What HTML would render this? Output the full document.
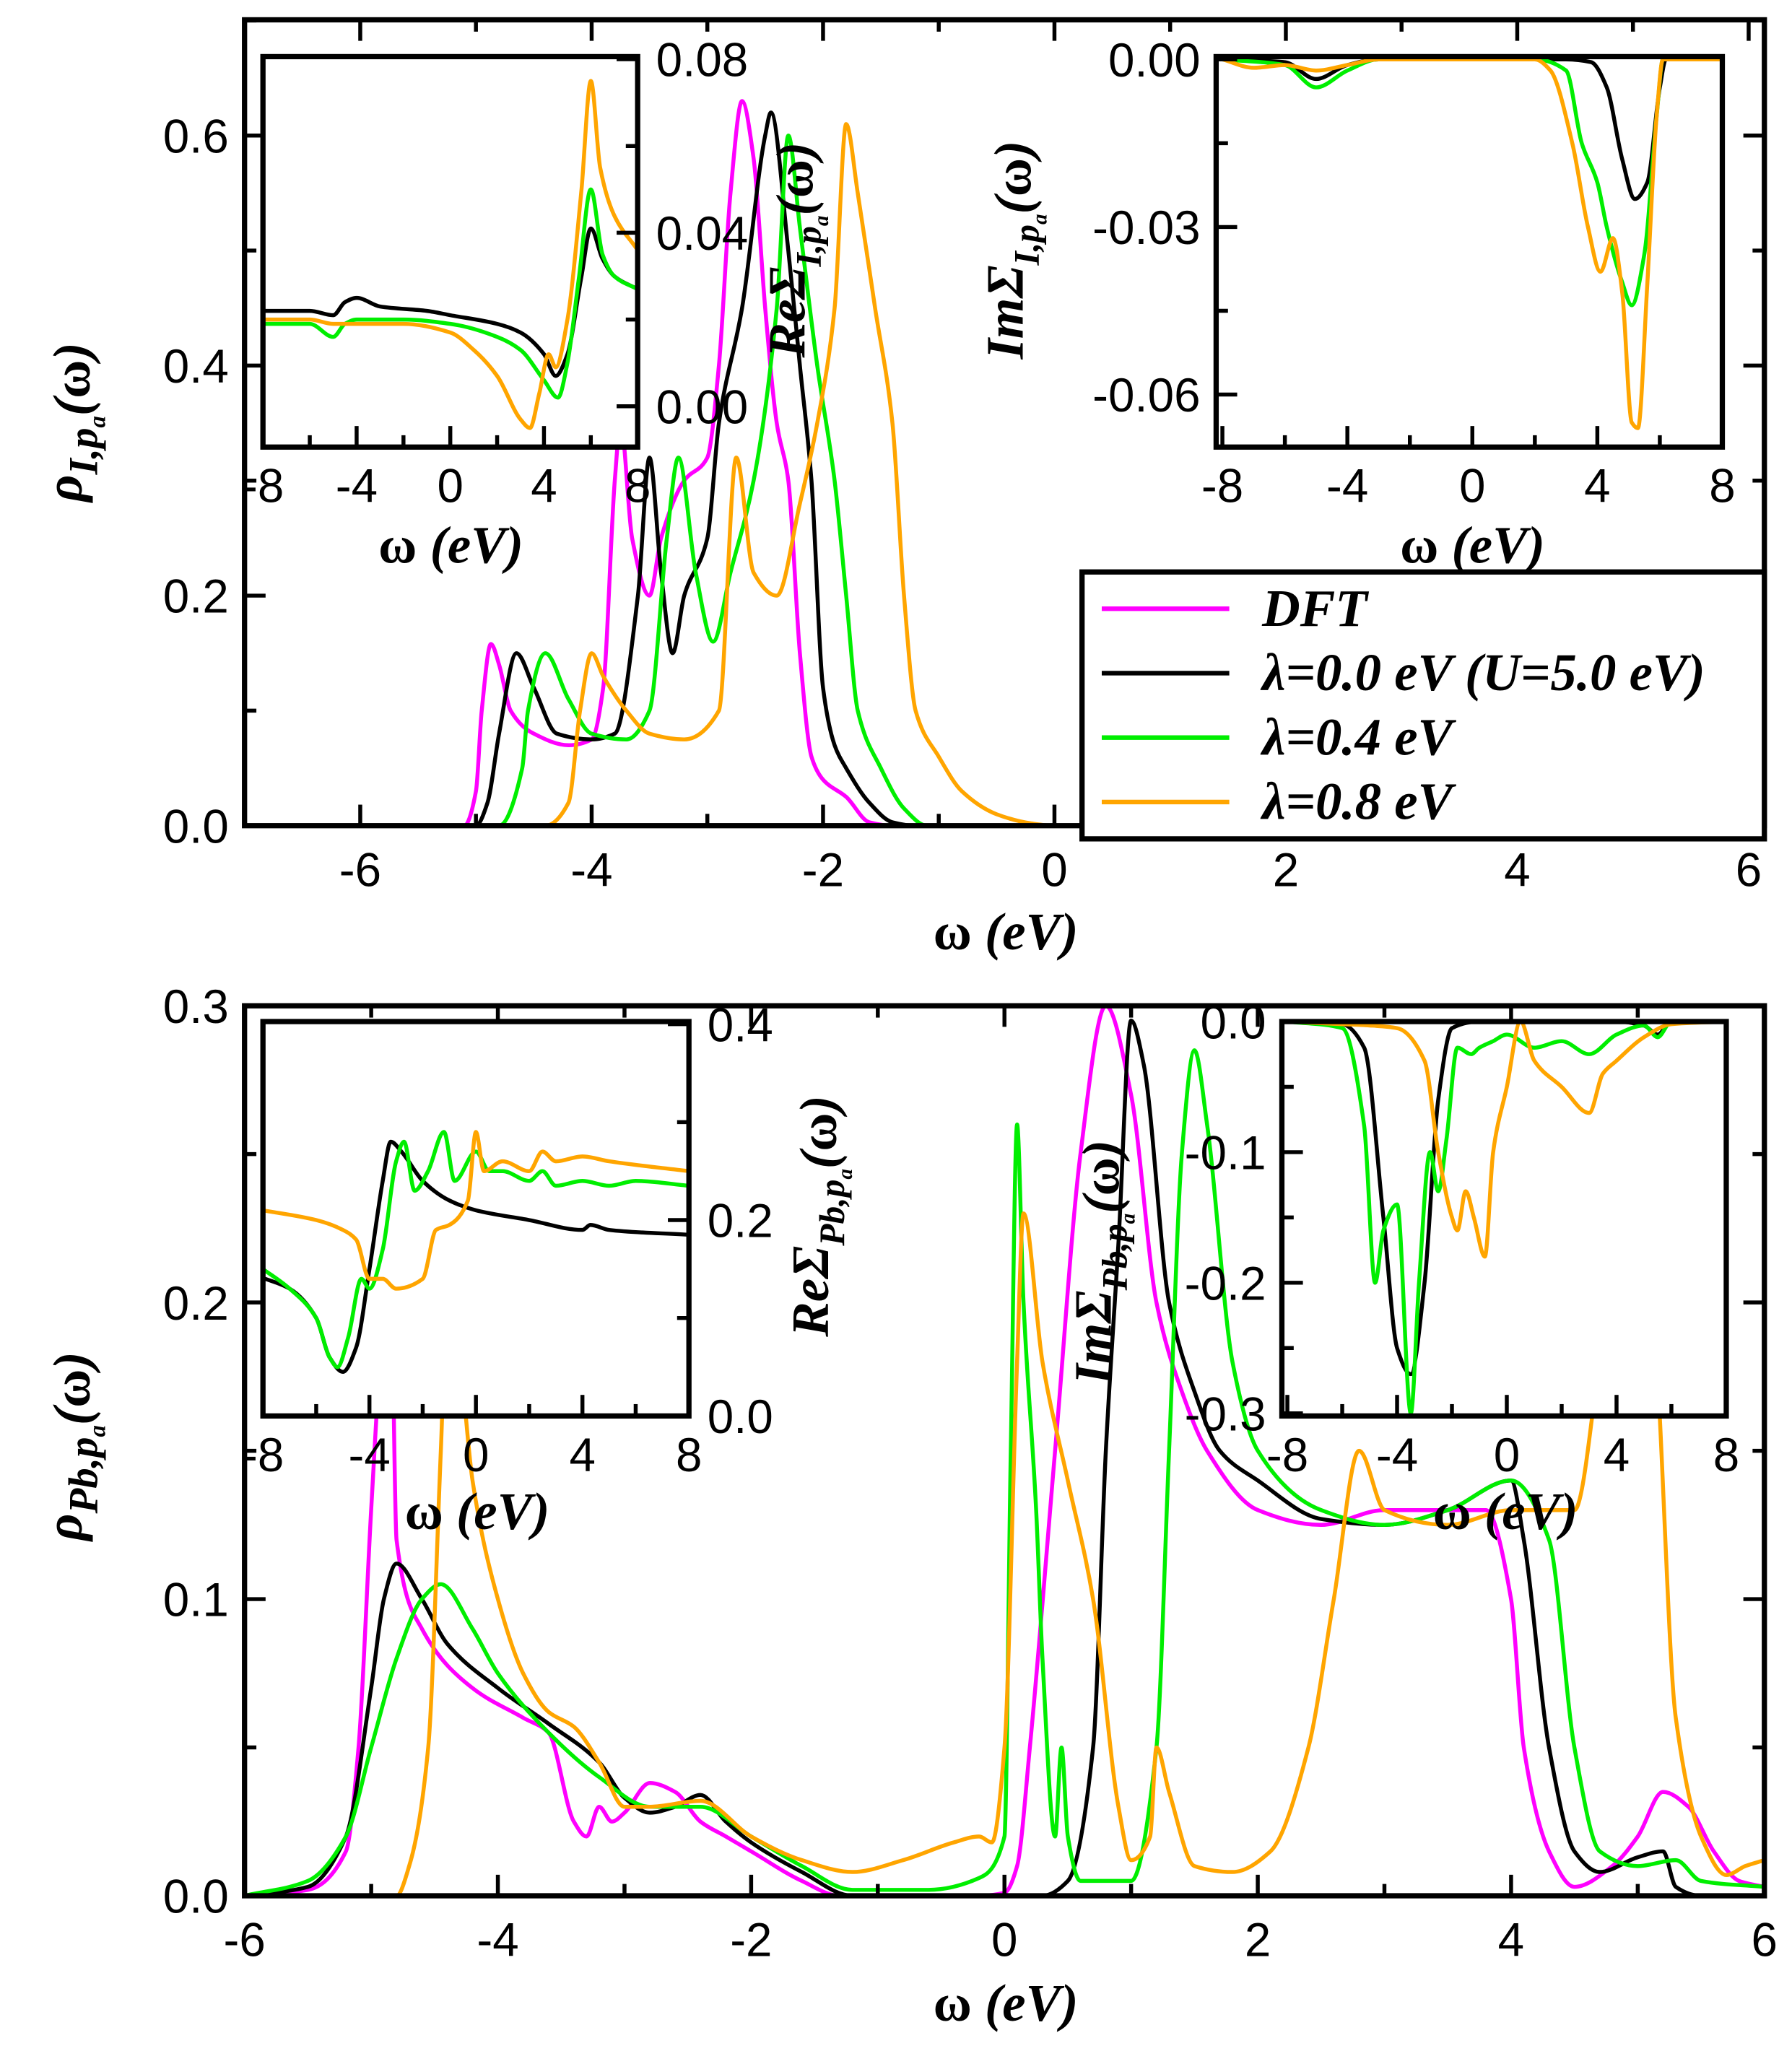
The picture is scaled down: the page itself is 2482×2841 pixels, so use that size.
<!DOCTYPE html>
<html><head><meta charset="utf-8"><style>
html,body{margin:0;padding:0;background:#fff;}
svg{display:block;}
text{font-family:"Liberation Sans",sans-serif;fill:#000;}
.t{font-size:36px;}
.ti{font-family:"Liberation Serif",serif;font-weight:bold;font-style:italic;font-size:40px;}
</style></head><body>
<svg id="chart" width="2482" height="2841" viewBox="0 0 1363 1560" xmlns="http://www.w3.org/2000/svg"></svg>
<script>
// ---------- data (omega eV, value) ----------
const topDFT=[[-7,0],[-5.1,0],[-5.0,0.03],[-4.95,0.1],[-4.87,0.158],[-4.8,0.14],[-4.7,0.1],[-4.5,0.08],[-4.2,0.07],[-4.0,0.075],[-3.9,0.12],[-3.8,0.3],[-3.75,0.35],[-3.65,0.25],[-3.5,0.2],[-3.4,0.25],[-3.2,0.3],[-3.0,0.32],[-2.9,0.4],[-2.8,0.55],[-2.7,0.63],[-2.6,0.58],[-2.5,0.45],[-2.4,0.35],[-2.3,0.3],[-2.2,0.15],[-2.1,0.06],[-2.0,0.04],[-1.8,0.025],[-1.6,0.003],[-1.4,0],[6,0]];
const topL00=[[-7,0],[-5.0,0],[-4.9,0.02],[-4.8,0.08],[-4.65,0.15],[-4.5,0.12],[-4.3,0.08],[-4.0,0.075],[-3.8,0.08],[-3.6,0.2],[-3.5,0.32],[-3.4,0.22],[-3.3,0.15],[-3.2,0.2],[-3.0,0.25],[-2.9,0.35],[-2.7,0.45],[-2.5,0.6],[-2.45,0.62],[-2.3,0.5],[-2.2,0.4],[-2.1,0.3],[-2.0,0.12],[-1.9,0.07],[-1.8,0.05],[-1.6,0.02],[-1.4,0.003],[-1.2,0],[6,0]];
const topL04=[[-7,0],[-4.8,0],[-4.6,0.05],[-4.55,0.1],[-4.4,0.15],[-4.2,0.11],[-4.0,0.08],[-3.7,0.075],[-3.5,0.1],[-3.35,0.25],[-3.25,0.32],[-3.1,0.22],[-2.95,0.16],[-2.8,0.22],[-2.6,0.3],[-2.4,0.45],[-2.3,0.6],[-2.2,0.52],[-2.05,0.4],[-1.9,0.3],[-1.8,0.2],[-1.7,0.1],[-1.5,0.05],[-1.3,0.015],[-1.1,0],[6,0]];
const topL08=[[-7,0],[-4.4,0],[-4.2,0.02],[-4.1,0.1],[-4.0,0.15],[-3.9,0.13],[-3.7,0.1],[-3.5,0.08],[-3.2,0.075],[-2.9,0.1],[-2.75,0.32],[-2.6,0.22],[-2.4,0.2],[-2.2,0.28],[-2.05,0.35],[-1.9,0.45],[-1.8,0.61],[-1.7,0.55],[-1.55,0.45],[-1.4,0.35],[-1.3,0.2],[-1.2,0.1],[-1.0,0.06],[-0.8,0.03],[-0.5,0.01],[-0.2,0.002],[0,0],[6,0]];
const reI00=[[-8,0.022],[-6,0.022],[-5,0.021],[-4.5,0.024],[-4,0.025],[-3,0.023],[-1,0.022],[0,0.021],[2,0.019],[3,0.017],[4,0.012],[4.5,0.007],[5,0.012],[5.6,0.03],[6,0.041],[6.5,0.034],[7,0.03],[8,0.027]];
const reI04=[[-8,0.019],[-6,0.019],[-5,0.016],[-4.5,0.019],[-4,0.02],[-2,0.02],[0,0.019],[2,0.016],[3,0.013],[4,0.006],[4.6,0.002],[5,0.01],[5.5,0.03],[6,0.05],[6.5,0.035],[7,0.03],[8,0.027]];
const reI08=[[-8,0.02],[-6,0.02],[-5,0.019],[-4,0.019],[-2,0.019],[0,0.017],[1,0.013],[2,0.007],[3,-0.003],[3.4,-0.005],[3.8,0.003],[4.2,0.012],[4.5,0.009],[5,0.02],[5.6,0.05],[6,0.075],[6.4,0.055],[7,0.044],[8,0.036]];
const imI00=[[-8,0],[-6,-0.0005],[-5,-0.0035],[-4,-0.001],[-3,0],[3,0],[3.8,-0.0005],[4.3,-0.005],[4.8,-0.018],[5.2,-0.025],[5.6,-0.022],[6,-0.005],[6.2,0],[8,0]];
const imI04=[[-8,0],[-6,-0.001],[-5,-0.005],[-4,-0.002],[-3,0],[2,0],[3,-0.002],[3.5,-0.015],[4,-0.022],[4.3,-0.03],[4.8,-0.04],[5.1,-0.044],[5.5,-0.035],[5.9,-0.01],[6.1,0],[8,0]];
const imI08=[[-8,0],[-7,-0.0015],[-6,-0.001],[-5,-0.002],[-4,-0.001],[-3,0],[2,0],[2.5,-0.002],[3.2,-0.015],[3.7,-0.03],[4.1,-0.038],[4.5,-0.032],[4.8,-0.042],[5.1,-0.065],[5.3,-0.066],[5.6,-0.04],[5.9,-0.01],[6.1,0],[8,0]];
const botDFT=[[-6,0],[-5.5,0.002],[-5.2,0.015],[-5.1,0.05],[-5.0,0.13],[-4.9,0.2],[-4.85,0.22],[-4.8,0.12],[-4.6,0.09],[-4.2,0.07],[-3.8,0.06],[-3.6,0.055],[-3.4,0.025],[-3.3,0.02],[-3.2,0.03],[-3.1,0.025],[-3.0,0.028],[-2.8,0.038],[-2.6,0.035],[-2.4,0.025],[-2.2,0.02],[-2,0.015],[-1.6,0.005],[-1.3,0],[-0.2,0],[0,0.001],[0.1,0.01],[0.2,0.05],[0.4,0.15],[0.6,0.25],[0.8,0.3],[1.0,0.27],[1.2,0.2],[1.4,0.17],[1.6,0.15],[2,0.13],[2.5,0.125],[3,0.13],[3.5,0.13],[3.8,0.13],[4.0,0.1],[4.1,0.05],[4.3,0.015],[4.5,0.003],[4.8,0.01],[5.0,0.02],[5.2,0.035],[5.4,0.03],[5.6,0.015],[5.8,0.005],[6,0.003]];
const botL00=[[-6,0],[-5.5,0.003],[-5.2,0.02],[-5.0,0.07],[-4.9,0.1],[-4.8,0.112],[-4.6,0.1],[-4.4,0.085],[-4.0,0.07],[-3.6,0.058],[-3.2,0.045],[-3.0,0.033],[-2.8,0.028],[-2.6,0.03],[-2.4,0.034],[-2.2,0.025],[-2,0.018],[-1.6,0.008],[-1.2,0],[0.3,0],[0.5,0.005],[0.7,0.05],[0.8,0.15],[0.9,0.22],[1.0,0.295],[1.1,0.28],[1.3,0.2],[1.5,0.17],[1.7,0.15],[2,0.14],[2.5,0.127],[3,0.125],[3.5,0.13],[4,0.14],[4.1,0.12],[4.3,0.05],[4.5,0.015],[4.7,0.008],[5,0.013],[5.2,0.015],[5.3,0.003],[5.5,0],[6,0]];
const botL04=[[-6,0],[-5.5,0.005],[-5.2,0.02],[-5.0,0.05],[-4.8,0.08],[-4.6,0.1],[-4.45,0.105],[-4.2,0.09],[-4.0,0.075],[-3.6,0.055],[-3.2,0.04],[-2.8,0.03],[-2.4,0.03],[-2.0,0.02],[-1.6,0.01],[-1.2,0.002],[-0.6,0.002],[-0.2,0.006],[0,0.02],[0.05,0.15],[0.1,0.26],[0.15,0.2],[0.25,0.13],[0.3,0.08],[0.4,0.02],[0.45,0.05],[0.5,0.02],[0.6,0.005],[1.0,0.005],[1.2,0.05],[1.3,0.15],[1.4,0.25],[1.5,0.285],[1.6,0.26],[1.8,0.18],[2.0,0.15],[2.5,0.13],[3,0.125],[3.5,0.13],[4.0,0.14],[4.3,0.12],[4.5,0.05],[4.7,0.015],[5,0.01],[5.3,0.012],[5.5,0.005],[6,0.003]];
const botL08=[[-6,0],[-4.8,0],[-4.7,0.01],[-4.55,0.05],[-4.45,0.15],[-4.4,0.2],[-4.3,0.18],[-4.2,0.14],[-4.0,0.1],[-3.8,0.075],[-3.6,0.062],[-3.4,0.057],[-3.2,0.045],[-3.0,0.03],[-2.8,0.03],[-2.4,0.032],[-2,0.02],[-1.6,0.012],[-1.2,0.008],[-0.8,0.012],[-0.4,0.018],[-0.2,0.02],[-0.1,0.018],[0,0.05],[0.1,0.18],[0.15,0.23],[0.3,0.18],[0.5,0.14],[0.7,0.1],[0.9,0.03],[1.0,0.012],[1.15,0.02],[1.2,0.05],[1.3,0.035],[1.5,0.01],[1.8,0.008],[2.1,0.015],[2.4,0.05],[2.6,0.1],[2.8,0.15],[3,0.13],[3.5,0.125],[4,0.13],[4.5,0.13],[4.8,0.2],[5.1,0.2],[5.3,0.06],[5.5,0.02],[5.7,0.007],[5.85,0.01],[6,0.012]];
const rePb00=[[-8,0.141],[-7,0.13],[-6,0.1],[-5.5,0.06],[-5,0.045],[-4.5,0.07],[-4,0.15],[-3.5,0.24],[-3.2,0.28],[-2.8,0.27],[-2,0.24],[-1,0.22],[0,0.21],[2,0.2],[4,0.19],[4.3,0.195],[5,0.19],[8,0.185]];
const rePb04=[[-8,0.15],[-7,0.13],[-6,0.1],[-5.5,0.06],[-5.2,0.05],[-4.8,0.08],[-4.3,0.14],[-4,0.13],[-3.5,0.17],[-3,0.26],[-2.7,0.28],[-2.3,0.23],[-1.8,0.25],[-1.2,0.29],[-0.8,0.24],[0,0.27],[0.5,0.25],[1,0.25],[2,0.24],[2.5,0.25],[3,0.235],[4,0.24],[5,0.235],[6,0.24],[8,0.235]];
const rePb08=[[-8,0.21],[-6,0.2],[-5,0.19],[-4.5,0.18],[-4,0.14],[-3.5,0.14],[-3,0.13],[-2,0.14],[-1.5,0.19],[-1,0.195],[-0.3,0.22],[0,0.29],[0.3,0.25],[1,0.26],[2,0.25],[2.5,0.27],[3,0.26],[4,0.265],[5,0.26],[8,0.25]];
const imPb00=[[-8,0],[-6,-0.002],[-5.2,-0.02],[-4.5,-0.15],[-4,-0.25],[-3.5,-0.27],[-3.0,-0.2],[-2.5,-0.06],[-2,-0.005],[-1,0],[4,0],[5,-0.003],[5.5,-0.01],[6,0],[8,0]];
const imPb04=[[-8,0],[-6,-0.005],[-5.2,-0.08],[-4.8,-0.2],[-4.5,-0.16],[-4,-0.14],[-3.5,-0.3],[-3.2,-0.2],[-2.8,-0.1],[-2.5,-0.13],[-2.2,-0.09],[-1.8,-0.02],[-1.3,-0.025],[-1,-0.02],[-0.5,-0.015],[0,-0.01],[1,-0.02],[2,-0.015],[3,-0.025],[4,-0.01],[5,-0.003],[5.5,-0.012],[6,0],[8,0]];
const imPb08=[[-8,0],[-6,-0.002],[-5,-0.003],[-4,-0.005],[-3,-0.03],[-2.5,-0.1],[-2,-0.15],[-1.8,-0.16],[-1.5,-0.13],[-1.2,-0.15],[-0.8,-0.18],[-0.5,-0.1],[0,-0.05],[0.5,0],[1,-0.03],[2,-0.05],[3,-0.07],[3.5,-0.04],[4,-0.03],[5,-0.012],[6,-0.002],[8,0]];
const legendLabels=["DFT","λ=0.0 eV (U=5.0 eV)","λ=0.4 eV","λ=0.8 eV"];
const COLORS={dft:"#ff00ff",l00:"#000000",l04:"#00ee00",l08:"#ffa500"};

const svg=document.getElementById('chart');
const NS="http://www.w3.org/2000/svg";
function mk(tag,attrs,parent){const e=document.createElementNS(NS,tag);for(const k in attrs)e.setAttribute(k,attrs[k]);(parent||svg).appendChild(e);return e;}
// monotone cubic (Fritsch-Carlson) path, no overshoot
function smooth(p){
  const n=p.length;const dx=[],m=[],t=new Array(n);
  for(let i=0;i<n-1;i++){dx.push(p[i+1][0]-p[i][0]);m.push((p[i+1][1]-p[i][1])/(dx[i]||1e-6));}
  t[0]=m[0];t[n-1]=m[n-2];
  for(let i=1;i<n-1;i++){t[i]=(m[i-1]*m[i]<=0)?0:(3*(dx[i-1]+dx[i]))/((2*dx[i]+dx[i-1])/m[i-1]+(dx[i]+2*dx[i-1])/m[i]);}
  let d='M'+p[0][0].toFixed(1)+' '+p[0][1].toFixed(1);
  for(let i=0;i<n-1;i++){const h=dx[i]/3;
    d+=' C'+(p[i][0]+h).toFixed(1)+' '+(p[i][1]+t[i]*h).toFixed(1)+' '+(p[i+1][0]-h).toFixed(1)+' '+(p[i+1][1]-t[i+1]*h).toFixed(1)+' '+p[i+1][0].toFixed(1)+' '+p[i+1][1].toFixed(1);}
  return d;
}
let clipN=0;
function panel(p){
  const g=mk('g',{});
  
  
  const sx=v=>p.x0+(v-p.xmin)/(p.xmax-p.xmin)*(p.x1-p.x0);
  const sy=v=>p.y1-(v-p.ymin)/(p.ymax-p.ymin)*(p.y1-p.y0);
  mk('rect',{x:p.x0,y:p.y0,width:p.x1-p.x0,height:p.y1-p.y0,fill:'#fff'},g);
  const id='clip'+(clipN++);
  const cp=mk('clipPath',{id:id},g);mk('rect',{x:p.x0,y:p.y0,width:p.x1-p.x0,height:p.y1-p.y0},cp);
  const cg=mk('g',{'clip-path':'url(#'+id+')'},g);
  p.series.forEach(s=>{
    const pts=s.data.map(pt=>[sx(pt[0]),sy(pt[1])]);
    const path=mk('path',{d:smooth(pts),fill:'none',stroke:s.color,'stroke-width':p.lw||3,'stroke-linejoin':'round'},cg);
    
    
  });
  mk('rect',{x:p.x0,y:p.y0,width:p.x1-p.x0,height:p.y1-p.y0,fill:'none',stroke:'#000','stroke-width':4},g);
  const tg=mk('g',{stroke:'#000','stroke-width':3},g);
  const xt0=p.xt0!==undefined?p.xt0:p.xmin;
  for(let v=xt0;v<=p.xmax+1e-9;v+=p.xminor){
    const rel=v/p.xmajor;const major=Math.abs(rel-Math.round(rel))<1e-6;const L=major?16:9;const X=sx(v);
    mk('line',{x1:X,y1:p.y1,x2:X,y2:p.y1-L},tg);
    if(p.topTicks)mk('line',{x1:X,y1:p.y0,x2:X,y2:p.y0+L},tg);
    if(major){const t=mk('text',{x:X,y:p.y1+p.xlabOff,'text-anchor':'middle',class:'t'},g);t.textContent=(+v.toFixed(2)).toString();}
  }
  for(let v=p.ymin0;v<=p.ymax+1e-9;v+=p.yminor){
    const rel=(v-p.ymin0)/p.ymajor;const major=Math.abs(rel-Math.round(rel))<1e-6;const L=major?16:9;const Y=sy(v);
    if(p.yside!=='right')mk('line',{x1:p.x0,y1:Y,x2:p.x0+L,y2:Y},tg);
    if(p.yside!=='left')mk('line',{x1:p.x1,y1:Y,x2:p.x1-L,y2:Y},tg);
    if(major){const right=p.yside==='right';const t=mk('text',{x:right?p.x1+14:p.x0-12,y:Y+13,'text-anchor':right?'start':'end',class:'t'},g);
      let s=v.toFixed(p.ydec);if(/^-0\.0+$/.test(s))s=s.slice(1);t.textContent=s;}
  }
  return g;
}
function xtitle(x,y,name){const t=mk('text',{x:x,y:y,'text-anchor':'middle',class:'ti'});
  t.innerHTML='<tspan style="font-style:normal">ω</tspan> (eV)';}
function ytitle(x,y,main,sub,name,size){const t=mk('text',{x:x,y:y,'text-anchor':'middle',class:'ti',transform:'rotate(-90 '+x+' '+y+')','font-size':size||40});
  
  t.innerHTML=main+'<tspan dy="12" font-size="'+((size||40)*0.68)+'">'+sub+'</tspan><tspan dy="-12">(</tspan><tspan style="font-style:normal">ω</tspan>)';}

panel({name:'top-dos-panel',x0:186,x1:1342,y0:15,y1:628,xmin:-7,xmax:6.136,xt0:-7,ymin:0,ymax:0.7006,xmajor:2,xminor:1,ymin0:0,ymajor:0.2,yminor:0.1,ydec:1,xlabOff:46,topTicks:true,yside:'both',
 series:[{name:'top-dft-line',data:topDFT,color:COLORS.dft},{name:'top-lambda00-line',data:topL00,color:COLORS.l00},{name:'top-lambda04-line',data:topL04,color:COLORS.l04},{name:'top-lambda08-line',data:topL08,color:COLORS.l08}]});
xtitle(765,722,'top-x-axis-title');
ytitle(62,321,'ρ','I,p<tspan font-size="18" dy="6">a</tspan><tspan dy="-6"></tspan>','top-y-axis-title',46);
panel({name:'top-re-sigma-inset',x0:200,x1:485,y0:43,y1:340,xmin:-8,xmax:8,ymin:-0.0094,ymax:0.0806,xmajor:4,xminor:2,ymin0:0,ymajor:0.04,yminor:0.02,ydec:2,xlabOff:42,yside:'right',
 series:[{name:'re-i-lambda00-line',data:reI00,color:COLORS.l00},{name:'re-i-lambda04-line',data:reI04,color:COLORS.l04},{name:'re-i-lambda08-line',data:reI08,color:COLORS.l08}]});
xtitle(343,428,'top-re-inset-x-title');
ytitle(612,190,'ReΣ','I,p<tspan font-size="16" dy="6">a</tspan><tspan dy="-6"></tspan>','top-re-inset-y-title',40);
panel({name:'top-im-sigma-inset',x0:925,x1:1310,y0:43,y1:340,xmin:-8.2,xmax:8,xt0:-8,ymin:-0.0694,ymax:0.0005,xmajor:4,xminor:2,ymin0:-0.06,ymajor:0.03,yminor:0.015,ydec:2,xlabOff:42,yside:'left',
 series:[{name:'im-i-lambda00-line',data:imI00,color:COLORS.l00},{name:'im-i-lambda04-line',data:imI04,color:COLORS.l04},{name:'im-i-lambda08-line',data:imI08,color:COLORS.l08}]});
xtitle(1120,428,'top-im-inset-x-title');
ytitle(778,190,'ImΣ','I,p<tspan font-size="16" dy="6">a</tspan><tspan dy="-6"></tspan>','top-im-inset-y-title',40);

panel({name:'bottom-dos-panel',x0:186,x1:1342,y0:765,y1:1442,xmin:-6,xmax:6,ymin:0,ymax:0.3,xmajor:2,xminor:1,ymin0:0,ymajor:0.1,yminor:0.05,ydec:1,xlabOff:46,topTicks:true,yside:'both',
 series:[{name:'bottom-dft-line',data:botDFT,color:COLORS.dft},{name:'bottom-lambda00-line',data:botL00,color:COLORS.l00},{name:'bottom-lambda04-line',data:botL04,color:COLORS.l04},{name:'bottom-lambda08-line',data:botL08,color:COLORS.l08}]});
xtitle(765,1537,'bottom-x-axis-title');
ytitle(62,1100,'ρ','Pb,p<tspan font-size="18" dy="6">a</tspan><tspan dy="-6"></tspan>','bottom-y-axis-title',46);
panel({name:'bottom-re-sigma-inset',x0:200,x1:524,y0:777,y1:1077,xmin:-8,xmax:8,ymin:0,ymax:0.4027,xmajor:4,xminor:2,ymin0:0,ymajor:0.2,yminor:0.1,ydec:1,xlabOff:42,yside:'right',
 series:[{name:'re-pb-lambda00-line',data:rePb00,color:COLORS.l00},{name:'re-pb-lambda04-line',data:rePb04,color:COLORS.l04},{name:'re-pb-lambda08-line',data:rePb08,color:COLORS.l08}]});
xtitle(363,1163,'bottom-re-inset-x-title');
ytitle(630,925,'ReΣ','Pb,p<tspan font-size="16" dy="6">a</tspan><tspan dy="-6"></tspan>','bottom-re-inset-y-title',40);
panel({name:'bottom-im-sigma-inset',x0:975,x1:1313,y0:777,y1:1077,xmin:-8.2,xmax:8,xt0:-8,ymin:-0.302,ymax:0,xmajor:4,xminor:2,ymin0:-0.3,ymajor:0.1,yminor:0.05,ydec:1,xlabOff:42,yside:'left',
 series:[{name:'im-pb-lambda00-line',data:imPb00,color:COLORS.l00},{name:'im-pb-lambda04-line',data:imPb04,color:COLORS.l04},{name:'im-pb-lambda08-line',data:imPb08,color:COLORS.l08}]});
xtitle(1145,1163,'bottom-im-inset-x-title');
ytitle(845,960,'ImΣ','Pb,p<tspan font-size="16" dy="6">a</tspan><tspan dy="-6"></tspan>','bottom-im-inset-y-title',40);

const lg=mk('g',{});


mk('rect',{x:823,y:435,width:519,height:203,fill:'#fff',stroke:'#000','stroke-width':4},lg);
const lcols=[COLORS.dft,COLORS.l00,COLORS.l04,COLORS.l08];
legendLabels.forEach((lab,i)=>{
  const y=463+i*49;
  const e=mk('g',{},lg);
  
  
  mk('line',{x1:838,y1:y,x2:935,y2:y,stroke:lcols[i],'stroke-width':3.5},e);
  const t=mk('text',{x:960,y:y+13,class:'ti','font-size':37},e);t.textContent=lab;
});
</script>
</body></html>
